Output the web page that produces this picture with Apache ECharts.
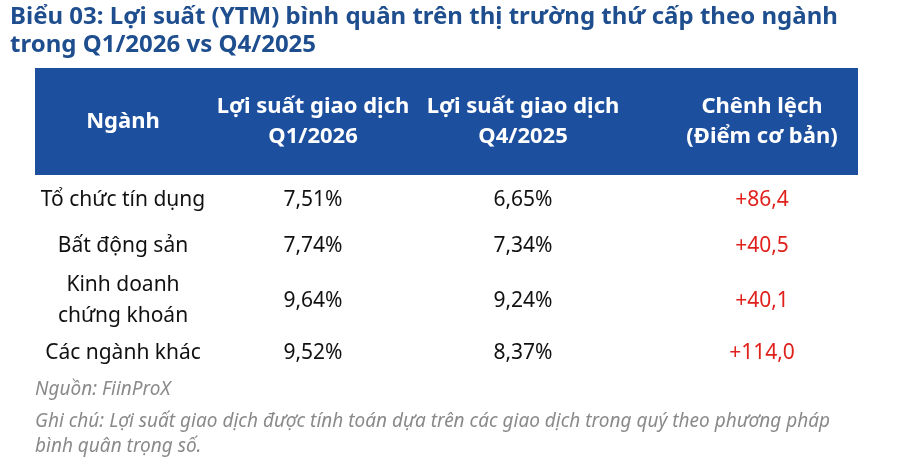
<!DOCTYPE html>
<html><head><meta charset="utf-8">
<script src="https://cdn.jsdelivr.net/npm/echarts@6/dist/echarts.min.js"></script>
<style>html,body{margin:0;background:#fff}#c{width:900px;height:462px}</style>
</head><body><div id="c"></div>
<script>
var titleLines = ['Biểu 03: Lợi suất (YTM) bình quân trên thị trường thứ cấp theo ngành', 'trong Q1/2026 vs Q4/2025'];
var headers = ['Ngành', 'Lợi suất giao dịch\nQ1/2026', 'Lợi suất giao dịch\nQ4/2025', 'Chênh lệch\n(Điểm cơ bản)'];
var sectors = ['Tổ chức tín dụng', 'Bất động sản', 'Kinh doanh\nchứng khoán', 'Các ngành khác'];
var yieldQ1 = ['7,51%', '7,74%', '9,64%', '9,52%'];
var yieldQ4 = ['6,65%', '7,34%', '9,24%', '8,37%'];
var diffBps = ['+86,4', '+40,5', '+40,1', '+114,0'];
var sourceText = 'Nguồn: FiinProX';
var noteText = 'Ghi chú: Lợi suất giao dịch được tính toán dựa trên các giao dịch trong quý theo phương pháp\nbình quân trọng số.';

var colX = [123, 313, 523, 762];
var rowY = [200, 246, 301, 353];
var font = '"Noto Sans", "DejaVu Sans", sans-serif';
var els = [];
els.push({type: 'text', left: 10, top: 3, style: {text: titleLines.join('\n'), font: 'bold 24px ' + font, fill: '#1f4e8f', lineHeight: 28}});
els.push({type: 'rect', shape: {x: 35, y: 68, width: 823, height: 107}, style: {fill: '#1d4f9f'}});
headers.forEach(function (h, i) {
  els.push({type: 'text', x: colX[i], y: 122, style: {text: h, font: 'bold 22px ' + font, fill: '#fff', align: 'center', verticalAlign: 'middle', lineHeight: 30}});
});
var cols = [sectors, yieldQ1, yieldQ4, diffBps];
cols.forEach(function (col, i) {
  col.forEach(function (v, r) {
    els.push({type: 'text', x: colX[i], y: rowY[r], style: {text: v, font: '21px ' + font, fill: i === 3 ? '#e0201b' : '#111', align: 'center', verticalAlign: 'middle', lineHeight: 31}});
  });
});
els.push({type: 'text', left: 35, top: 380, style: {text: sourceText, font: 'italic 19px ' + font, fill: '#8a8a8a'}});
els.push({type: 'text', left: 35, top: 409, style: {text: noteText, font: 'italic 19px ' + font, fill: '#8a8a8a', lineHeight: 25}});

var chart = echarts.init(document.getElementById('c'));
chart.setOption({graphic: {elements: els}});
</script></body></html>
